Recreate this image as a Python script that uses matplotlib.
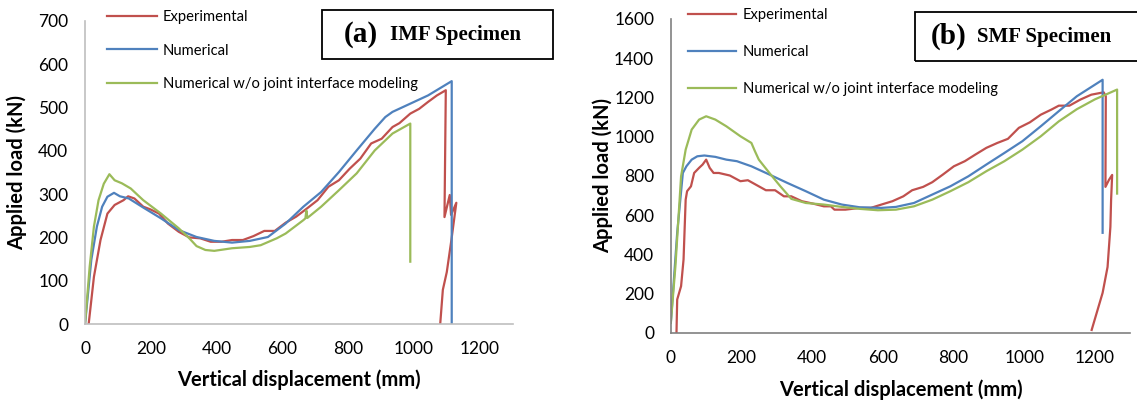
import numpy as np
import matplotlib
matplotlib.use("Agg")
import matplotlib.pyplot as plt
from matplotlib.patches import Rectangle

plt.rcParams['font.family'] = ['Lato', 'DejaVu Sans']

labels = ['Experimental', 'Numerical', 'Numerical w/o joint interface modeling']
colors = ['#C0504D', '#4F81BD', '#9BBB59']

# (a) IMF specimen
exp_a_x = [11, 27, 47, 68, 90, 117, 131, 150, 177, 198, 225, 252, 285, 317, 350, 382, 415, 447,
           480, 512, 545, 577, 610, 642, 675, 707, 740, 772, 805, 837, 870, 902, 935, 956, 989,
           1016, 1043, 1070, 1097, 1093, 1109, 1113, 1129, 1114, 1100, 1088, 1080]
exp_a_y = [0, 109, 194, 255, 275, 286, 295, 290, 271, 265, 255, 232, 213, 200, 198, 190, 190, 194,
           194, 203, 215, 215, 234, 248, 267, 286, 317, 332, 359, 382, 417, 428, 455, 464, 486,
           497, 513, 528, 540, 247, 298, 252, 280, 194, 120, 79, 0]
num_a_x = [0, 19, 36, 52, 68, 88, 106, 133, 177, 231, 285, 339, 393, 447, 501, 556, 610, 664,
           718, 772, 826, 881, 913, 935, 989, 1043, 1115, 1115]
num_a_y = [0, 148, 225, 271, 294, 303, 295, 290, 269, 244, 217, 201, 192, 188, 192, 201, 232, 271,
           305, 351, 401, 451, 478, 490, 509, 528, 561, 0]
wo_a_x = [0, 14, 27, 41, 57, 74, 90, 112, 139, 160, 177, 231, 285, 317, 339, 366, 393, 447, 501,
          534, 583, 610, 664, 670, 673, 676, 718, 772, 826, 881, 935, 989, 989]
wo_a_y = [0, 132, 225, 286, 324, 346, 332, 325, 313, 298, 286, 255, 221, 198, 180, 171, 169, 175,
          178, 182, 198, 209, 240, 244, 262, 245, 271, 309, 348, 401, 440, 463, 144]

# (b) SMF specimen
exp_b_x = [16, 18, 29, 36, 42, 46, 57, 66, 80, 90, 100, 110, 121, 136, 167, 197, 218, 249, 269,
           295, 320, 341, 371, 402, 433, 453, 463, 494, 535, 566, 596, 627, 658, 683, 714, 740,
           770, 801, 832, 862, 893, 924, 954, 985, 1016, 1047, 1077, 1098, 1128, 1159, 1190,
           1225, 1231, 1230, 1240, 1249, 1246, 1244, 1236, 1222, 1191]
exp_b_y = [0, 170, 238, 374, 679, 722, 747, 815, 841, 858, 883, 841, 815, 815, 802, 773, 778, 747,
           727, 727, 696, 696, 671, 659, 645, 645, 628, 628, 637, 637, 654, 671, 696, 727, 744,
           768, 807, 849, 875, 909, 943, 968, 989, 1045, 1073, 1112, 1138, 1158, 1158, 1189,
           1214, 1226, 1206, 744, 780, 805, 678, 540, 336, 204, 15]
num_b_x = [0, 18, 34, 44, 59, 75, 95, 126, 157, 187, 228, 279, 330, 382, 433, 484, 535, 596, 637,
           688, 740, 791, 842, 893, 944, 995, 1047, 1098, 1149, 1222, 1222]
num_b_y = [51, 510, 815, 849, 883, 900, 904, 897, 883, 875, 849, 807, 764, 722, 679, 654, 640, 637,
           642, 662, 705, 747, 798, 858, 917, 977, 1053, 1130, 1206, 1290, 510]
wo_b_x = [0, 13, 29, 42, 59, 80, 100, 126, 157, 197, 228, 238, 249, 279, 310, 341, 382, 433, 484,
          535, 586, 637, 688, 740, 791, 842, 893, 944, 995, 1047, 1098, 1149, 1200, 1263, 1263]
wo_b_y = [51, 340, 798, 934, 1036, 1087, 1104, 1087, 1053, 1002, 968, 926, 883, 815, 747, 683,
          662, 654, 642, 632, 625, 628, 645, 679, 722, 768, 824, 875, 934, 1002, 1078, 1140,
          1190, 1240, 710]

fig = plt.figure(figsize=(11.37, 4.03), dpi=100)

ax1 = fig.add_axes([0.0748, 0.196, 0.376, 0.752])
ax2 = fig.add_axes([0.590, 0.174, 0.404, 0.779])

panels = [
    (ax1, [(exp_a_x, exp_a_y), (num_a_x, num_a_y), (wo_a_x, wo_a_y)], 700, 100, '#BFBFBF'),
    (ax2, [(exp_b_x, exp_b_y), (num_b_x, num_b_y), (wo_b_x, wo_b_y)], 1600, 200, '#808080'),
]

for ax, series, ymax, ystep, spc in panels:
    for (xs, ys), lab, c in zip(series, labels, colors):
        ax.plot(xs, ys, color=c, lw=1.6, label=lab)
    ax.set_xlim(0, 1300)
    ax.set_ylim(0, ymax)
    ax.set_xticks(np.arange(0, 1201, 200))
    ax.set_yticks(np.arange(0, ymax + 1, ystep))
    for s in ['top', 'right']:
        ax.spines[s].set_visible(False)
    for s in ['left', 'bottom']:
        ax.spines[s].set_color(spc)
        ax.spines[s].set_linewidth(1.2)
    ax.tick_params(length=0, labelsize=12.5, pad=12)
    ax.set_xlabel('Vertical displacement (mm)', fontsize=14.5, fontweight='bold')
    ax.set_ylabel('Applied load (kN)', fontsize=14.5, fontweight='bold')

ax1.xaxis.set_label_coords(0.5, -0.15)
ax1.yaxis.set_label_coords(-0.135, 0.5)
ax2.xaxis.set_label_coords(0.5, -0.148)
ax2.yaxis.set_label_coords(-0.126, 0.5)

ax1.legend(loc='upper left', bbox_to_anchor=(0.094, 0.974), bbox_transform=fig.transFigure,
           frameon=False, fontsize=10.6, handlelength=3.4, handletextpad=0.42,
           labelspacing=1.3, borderaxespad=0, borderpad=0)
ax2.legend(loc='upper left', bbox_to_anchor=(0.605, 0.979), bbox_transform=fig.transFigure,
           frameon=False, fontsize=10.6, handlelength=3.3, handletextpad=0.42,
           labelspacing=1.55, borderaxespad=0, borderpad=0)

# title boxes
fig.patches.append(Rectangle((0.283, 0.854), 0.203, 0.122, transform=fig.transFigure,
                             fill=False, edgecolor='black', lw=1.3))
fig.patches.append(Rectangle((0.805, 0.849), 0.25, 0.122, transform=fig.transFigure,
                             fill=False, edgecolor='black', lw=1.3))
serif = ['Liberation Serif', 'DejaVu Serif']
fig.text(0.302, 0.915, '(a)', fontsize=21, fontweight='bold', family=serif, ha='left', va='center')
fig.text(0.343, 0.913, 'IMF Specimen', fontsize=15, fontweight='bold', family=serif, ha='left', va='center')
fig.text(0.819, 0.910, '(b)', fontsize=21, fontweight='bold', family=serif, ha='left', va='center')
fig.text(0.859, 0.908, 'SMF Specimen', fontsize=15, fontweight='bold', family=serif, ha='left', va='center')

fig.savefig('out.png', dpi=100)
